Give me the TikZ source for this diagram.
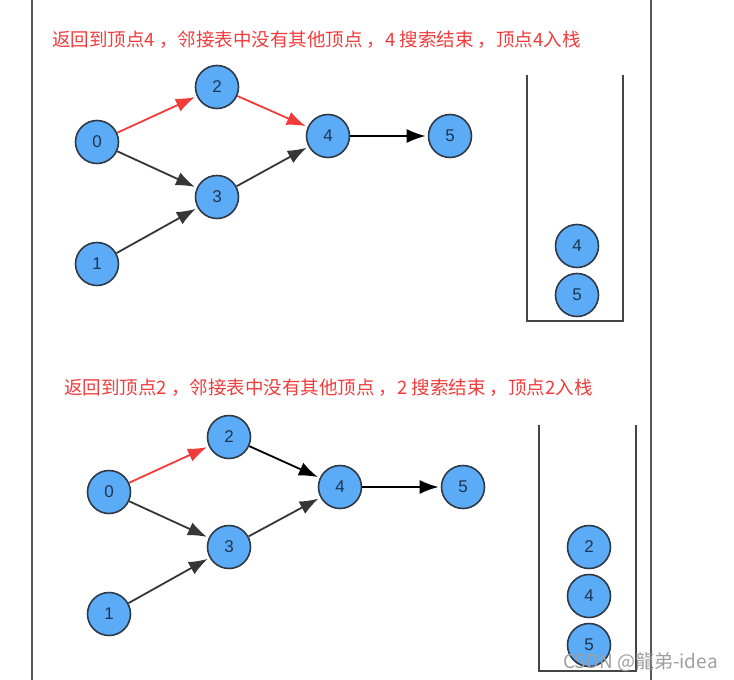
\documentclass[tikz,border=0pt]{standalone}
\usepackage{fontspec}
\setmainfont{Liberation Sans}
\newfontfamily\cjk{Noto Sans CJK SC}
\usetikzlibrary{arrows.meta}
\definecolor{Ball}{HTML}{5CABF7}
\definecolor{Rim}{HTML}{2E3A46}
\definecolor{Digit}{HTML}{1E3550}
\definecolor{Visit}{HTML}{F23B3B}
\definecolor{Edge}{HTML}{363636}
\definecolor{Wall}{HTML}{454545}

\begin{document}
\begin{tikzpicture}[x=1pt, y=-1pt, >={Latex[length=19pt, width=14pt]},
    vert/.style={circle, draw=Rim, line width=1.6pt, fill=Ball, minimum size=43pt, inner sep=0pt, text=Digit, font=\fontsize{17}{17}\selectfont},
    note/.style={anchor=west, inner sep=0pt, text=Visit, font=\cjk\fontsize{18.5}{18.5}\selectfont},
    link/.style={->, line width=1.8pt, color=Edge, shorten >=2pt},
    seen/.style={link, color=Visit},
    last/.style={link, color=black},
    wall/.style={draw=Wall, line width=1.6pt},
    frame/.style={draw=Wall!90, line width=1.8pt}]
    \useasboundingbox (0,0) rectangle (734,680);
    \draw[frame] (32,0) -- (32,680);
    \draw[frame] (651,0) -- (651,680);

    % top: vertex 4 finished
    \node[note] (title1) at (52,40) {返回到顶点4 ，邻接表中没有其他顶点 ，4 搜索结束 ，顶点4入栈};
    \node[vert] (t0) at (97,142) {0};
    \node[vert] (t1) at (97,264) {1};
    \node[vert] (t2) at (217,87) {2};
    \node[vert] (t3) at (217,197) {3};
    \node[vert] (t4) at (328,136) {4};
    \node[vert] (t5) at (450,136) {5};
    \draw[seen] (t0) -- (t2);
    \draw[seen] (t2) -- (t4);
    \draw[link] (t0) -- (t3);
    \draw[link] (t1) -- (t3);
    \draw[link] (t3) -- (t4);
    \draw[last] (t4) -- (t5);
    \draw[wall] (527,75) -- (527,321) -- (623,321) -- (623,75);
    \node[vert] (ts4) at (577,246) {4};
    \node[vert] (ts5) at (577,295) {5};

    % bottom: vertex 2 finished
    \node[note] (title2) at (64,388) {返回到顶点2 ，邻接表中没有其他顶点 ，2 搜索结束 ，顶点2入栈};
    \node[vert] (b0) at (109,492) {0};
    \node[vert] (b1) at (109,614) {1};
    \node[vert] (b2) at (229,437) {2};
    \node[vert] (b3) at (229,547) {3};
    \node[vert] (b4) at (340,487) {4};
    \node[vert] (b5) at (463,487) {5};
    \draw[seen] (b0) -- (b2);
    \draw[last] (b2) -- (b4);
    \draw[link] (b0) -- (b3);
    \draw[link] (b1) -- (b3);
    \draw[link] (b3) -- (b4);
    \draw[last] (b4) -- (b5);
    \draw[wall] (539,425) -- (539,671) -- (636,671) -- (636,425);
    \node[vert] (bs2) at (589,547) {2};
    \node[vert] (bs4) at (589,596) {4};
    \node[vert] (bs5) at (589,645) {5};

    \node[anchor=west, inner sep=0pt, text=gray!75, font=\cjk\fontsize{19}{19}\selectfont] (mark) at (563,662) {CSDN @龍弟-idea};
  \end{tikzpicture}
\end{document}
